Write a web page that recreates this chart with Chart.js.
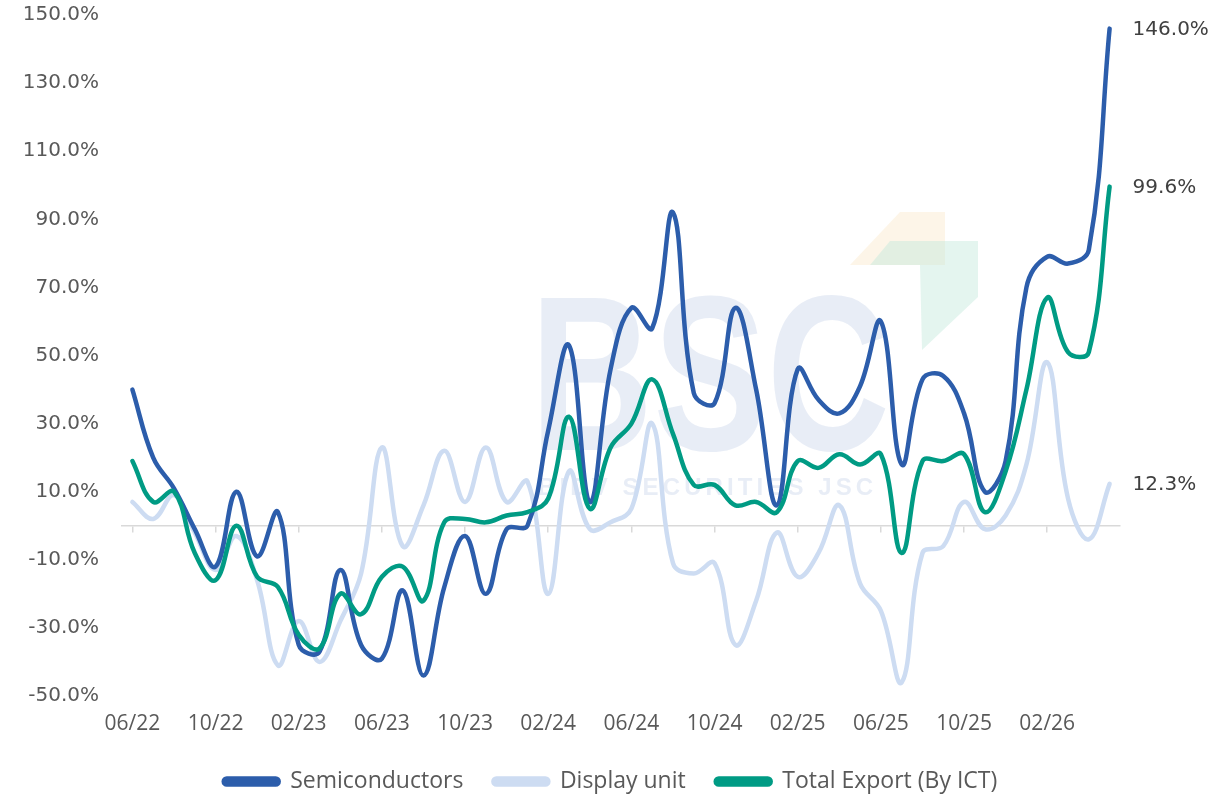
<!DOCTYPE html>
<html>
<head>
<meta charset="utf-8">
<title>ICT export growth</title>
<script src="https://cdn.jsdelivr.net/npm/chart.js@4.4.1/dist/chart.umd.min.js"></script>
<style>
  html, body { margin: 0; padding: 0; background: #ffffff; }
  #wrap { width: 1221px; height: 794px; position: relative; }
</style>
</head>
<body>
<div id="wrap"><canvas id="exportChart"></canvas></div>
<script>
// months, 06/22 .. 05/26
const months = [
  '06/22', '07/22', '08/22', '09/22', '10/22', '11/22', '12/22',
  '01/23', '02/23', '03/23', '04/23', '05/23', '06/23', '07/23', '08/23', '09/23', '10/23', '11/23', '12/23',
  '01/24', '02/24', '03/24', '04/24', '05/24', '06/24', '07/24', '08/24', '09/24', '10/24', '11/24', '12/24',
  '01/25', '02/25', '03/25', '04/25', '05/25', '06/25', '07/25', '08/25', '09/25', '10/25', '11/25', '12/25',
  '01/26', '02/26', '03/26', '04/26', '05/26'
];

// YoY growth, %
const semiconductors = [
  40, 20, 11, -1, -12, 10, -9, 4, -35, -37, -13, -35,
  -39, -19, -44, -18, -3, -20, -1, 0, 28, 53, 7, 46,
  64, 58, 92, 39, 36, 64, 40, 6, 46, 37, 33, 41,
  60, 18, 43, 44, 33, 10, 19, 70, 79, 77, 81, 146.0
];
const displayUnit = [
  7, 2, 9, -2, -13, -3, -16, -41, -28, -40, -28, -14,
  23, -6, 6, 22, 7, 23, 7, 13, -20, 16, -1, 1,
  5, 30, -11, -14, -11, -35, -22, -2, -15, -8, 6, -17,
  -25, -46, -8, -6, 7, -1, 3, 18, 48, 8, -4, 12.3
];
const totalExport = [
  19, 7, 10, -8, -16, 0, -15, -18, -32, -36, -20, -26,
  -15, -12, -22, 1, 2, 1, 3, 4, 8, 32, 5, 23,
  30, 43, 27, 12, 12, 6, 7, 4, 19, 17, 21, 18,
  21, -8, 19, 19, 21, 4, 16, 40, 67, 51, 51, 99.6
];

const yMin = -50;
const yMax = 150;
const yStep = 20;

const BLUE = '#2C5DAB';
const LIGHT = '#CDDCF2';
const GREEN = '#009B84';
const AXIS_GREY = '#D9D9D9';
const TEXT_GREY = '#595959';

// faint BSC watermark behind the lines
const watermark = {
  id: 'watermark',
  beforeDatasetsDraw(chart) {
    const ctx = chart.ctx;
    ctx.save();
    // logo blocks
    ctx.fillStyle = 'rgba(249, 226, 190, 0.35)';
    ctx.beginPath();
    ctx.moveTo(900, 212); ctx.lineTo(945, 212); ctx.lineTo(945, 265); ctx.lineTo(850, 265);
    ctx.closePath(); ctx.fill();
    ctx.fillStyle = 'rgba(196, 232, 220, 0.45)';
    ctx.beginPath();
    ctx.moveTo(890, 241); ctx.lineTo(978, 241); ctx.lineTo(978, 297); ctx.lineTo(922, 350); ctx.lineTo(920, 265); ctx.lineTo(870, 265);
    ctx.closePath(); ctx.fill();
    // big letters
    ctx.fillStyle = 'rgba(205, 214, 234, 0.45)';
    ctx.font = 'bold 220px "Liberation Sans"';
    ctx.textBaseline = 'alphabetic';
    const w = ctx.measureText('BSC').width;
    ctx.translate(530, 450);
    ctx.scale(360 / w, 1);
    ctx.fillText('BSC', 0, 0);
    ctx.restore();
    // company name
    ctx.save();
    ctx.fillStyle = 'rgba(205, 214, 234, 0.45)';
    ctx.font = 'bold 24px "Liberation Sans"';
    ctx.textBaseline = 'middle';
    const name = 'BIDV SECURITIES JSC';
    const nw = ctx.measureText(name).width;
    ctx.letterSpacing = ((335 - nw) / (name.length - 1)).toFixed(1) + 'px';
    ctx.fillText(name, 538, 488);
    ctx.restore();
  }
};

// value labels at the right end of each line
const endLabels = {
  id: 'endLabels',
  afterDatasetsDraw(chart) {
    const ctx = chart.ctx;
    ctx.save();
    ctx.font = '20px "DejaVu Sans"';
    ctx.fillStyle = '#404040';
    ctx.textBaseline = 'middle';
    ctx.textAlign = 'left';
    chart.data.datasets.forEach((ds, i) => {
      const meta = chart.getDatasetMeta(i);
      const pt = meta.data[meta.data.length - 1];
      const val = ds.data[ds.data.length - 1];
      ctx.fillText(val.toFixed(1) + '%', pt.x + 23, pt.y + 1);
    });
    ctx.restore();
  }
};

// keep the legend box compact while items stay well apart
const legendHeight = {
  id: 'legendHeight',
  beforeInit(chart) {
    const fit = chart.legend.fit;
    chart.legend.fit = function() {
      fit.call(this);
      this.height = 54;
    };
  }
};

const ctx = document.getElementById('exportChart').getContext('2d');
const exportChart = new Chart(ctx, {
  type: 'line',
  data: {
    labels: months,
    datasets: [
      {
        label: 'Semiconductors',
        data: semiconductors,
        borderColor: BLUE,
        backgroundColor: BLUE,
        order: 1
      },
      {
        label: 'Display unit',
        data: displayUnit,
        borderColor: LIGHT,
        backgroundColor: LIGHT,
        order: 2
      },
      {
        label: 'Total Export (By ICT)',
        data: totalExport,
        borderColor: GREEN,
        backgroundColor: GREEN,
        order: 0
      }
    ]
  },
  options: {
    responsive: true,
    maintainAspectRatio: false,
    animation: false,
    devicePixelRatio: 1,
    layout: {
      padding: { top: 15, right: 0, bottom: 0, left: 0 }
    },
    elements: {
      line: { borderWidth: 4.5, tension: 0.4, borderCapStyle: 'round', borderJoinStyle: 'round' },
      point: { radius: 0, hoverRadius: 0 }
    },
    plugins: {
      legend: {
        position: 'bottom',
        labels: {
          boxWidth: 55,
          boxHeight: 6,
          useBorderRadius: true,
          borderRadius: 3,
          padding: 30,
          color: TEXT_GREY,
          font: { family: 'Open Sans', size: 23 },
          sort: (a, b) => a.datasetIndex - b.datasetIndex
        }
      },
      tooltip: { enabled: false }
    },
    scales: {
      x: {
        type: 'category',
        offset: true,
        grid: { display: false, drawTicks: false },
        border: { display: false },
        afterFit: (scale) => { scale.height = 44; },
        ticks: {
          autoSkip: false,
          maxRotation: 0,
          padding: 15,
          color: TEXT_GREY,
          font: { family: 'Open Sans', size: 21 },
          callback: function(value, index) {
            return index % 4 === 0 ? this.getLabelForValue(value) : '';
          }
        }
      },
      // zero line with tick marks every 4 months
      xZero: {
        type: 'category',
        position: { y: 0 },
        offset: true,
        grid: {
          drawOnChartArea: false,
          drawTicks: true,
          tickLength: 6,
          lineWidth: 1.5,
          color: (c) => c.index % 4 === 0 ? AXIS_GREY : 'rgba(0,0,0,0)'
        },
        border: { color: AXIS_GREY, width: 1.5 },
        ticks: { display: false }
      },
      y: {
        min: yMin,
        max: yMax,
        grid: { display: false, drawTicks: false },
        border: { display: false },
        afterFit: (scale) => {
          scale.width = 122;
          scale.paddingTop = 0;
          scale.paddingBottom = 0;
        },
        ticks: {
          stepSize: yStep,
          padding: 23,
          color: TEXT_GREY,
          font: { family: 'DejaVu Sans', size: 20 },
          callback: (v) => v.toFixed(1) + '%'
        }
      },
      // empty strip on the right for the end labels
      yRight: {
        position: 'right',
        grid: { display: false, drawTicks: false },
        border: { display: false },
        ticks: { display: false },
        afterFit: (scale) => {
          scale.width = 101;
          scale.paddingTop = 0;
          scale.paddingBottom = 0;
        }
      }
    }
  },
  plugins: [watermark, endLabels, legendHeight]
});
</script>
</body>
</html>
